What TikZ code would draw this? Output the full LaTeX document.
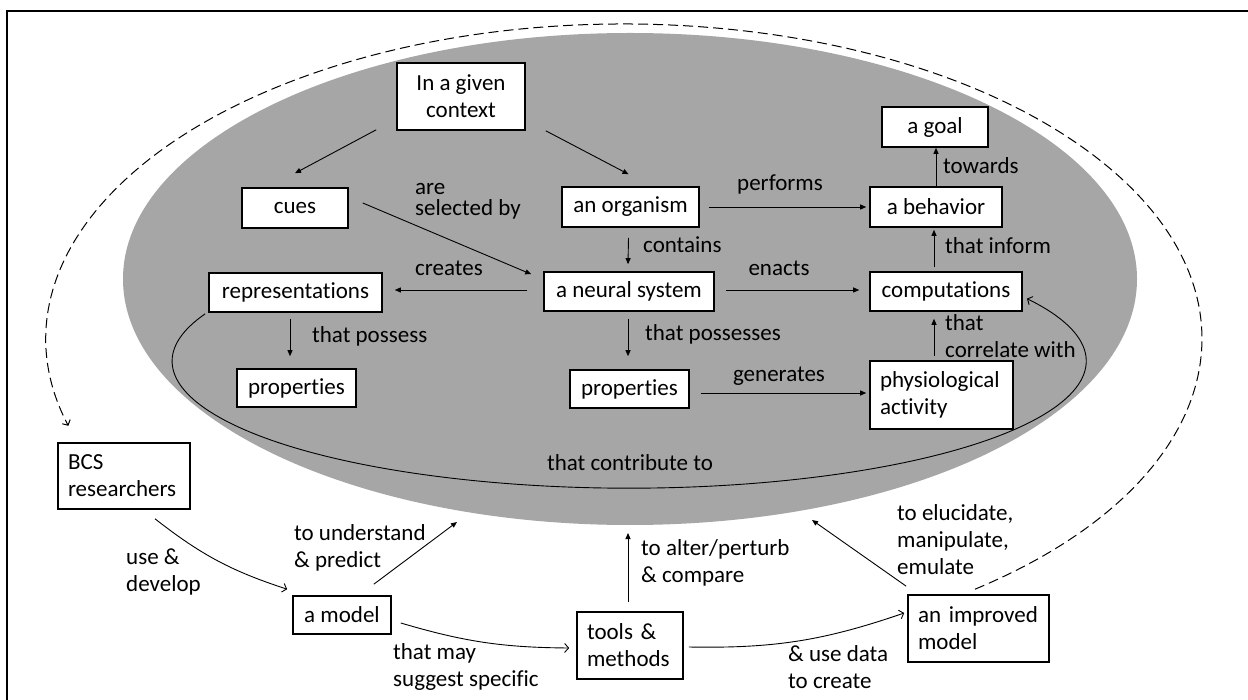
\documentclass[tikz,border=0pt]{standalone}
\usepackage{fontspec}
\setmainfont{Carlito}[Ligatures=NoCommon]
\usetikzlibrary{arrows.meta,calc}
\definecolor{fieldgray}{RGB}{166,166,166}
\tikzset{
  box/.style={draw, line width=1.6pt, fill=white, inner sep=0pt, align=center},
  lbox/.style={draw, line width=1.6pt, fill=white, inner xsep=10pt, inner ysep=0pt, align=left},
  lbl/.style={inner sep=0pt, align=left, anchor=west},
  clbl/.style={inner sep=0pt},
  link/.style={line width=0.9pt, -{Triangle[length=6pt,width=5pt]}},
  olink/.style={line width=0.9pt, -{Straight Barb[length=4pt,width=9pt]}},
  dlink/.style={line width=1pt, dash pattern=on 10pt off 5pt, -{Straight Barb[length=4pt,width=9pt]}}
}
\begin{document}
\begin{tikzpicture}[x=1pt, y=-1pt, font=\fontsize{23}{27}\selectfont]
\useasboundingbox (0,0) rectangle (1248,700);

% frame
\draw[line width=2pt] (7,700) -- (7,11) -- (1248,11);

% grey field of the organism
\fill[fieldgray] (630,279) ellipse [x radius=507pt, y radius=246pt];

% free ends on the grey field
\coordinate (e1) at (457,522);
\coordinate (e2) at (628,533);
\coordinate (e3) at (812,520);

% nodes
\node[box, minimum width=128pt, minimum height=67pt] (ctx) at (461,96.5) {In a given\\context};
\node[box, minimum width=106pt, minimum height=40pt] (cues) at (295,208) {cues};
\node[box, minimum width=137pt, minimum height=40pt] (org) at (630.5,207) {an organism};
\node[box, minimum width=106pt, minimum height=40pt] (goal) at (935,127) {a goal};
\node[box, minimum width=132pt, minimum height=40pt] (beh) at (936,207) {a behavior};
\node[box, minimum width=173pt, minimum height=39pt] (rep) at (295.5,292.5) {representations};
\node[box, minimum width=119pt, minimum height=38pt] (prop1) at (296.5,388) {properties};
\node[box, minimum width=170pt, minimum height=39pt] (neur) at (629,291.5) {a neural system};
\node[box, minimum width=119pt, minimum height=38pt] (prop2) at (629.5,389) {properties};
\node[box, minimum width=152pt, minimum height=39pt] (comp) at (946,291.5) {computations};

% curve from representations round to computations (under the boxes)
\draw[olink] ($(rep.south west)+(-3,1)$) arc[start angle=158.1, end angle=389.5, x radius=457pt, y radius=127pt];
\node[clbl] (lcontrib) at (630,463) {that contribute to};

\node[lbox, text width=123pt, minimum height=68pt] (phys) at (941.5,395) {physiological\\activity};
\node[lbox, text width=112pt, minimum height=66pt] (bcs) at (124,476) {BCS\\researchers};
\node[box, minimum width=98pt, minimum height=38pt] (model) at (342,615) {a model};
\node[lbox, text width=86pt, minimum height=67pt] (tools) at (630,645.5) {tools \&\\methods};
\node[lbox, text width=121pt, minimum height=67pt] (imp) at (978.5,628.5) {an improved\\model};

% connectors inside the grey field
\draw[link] ($(ctx.south west)+(-20,-1)$) -- ($(cues.north)+(0,-14)$);
\draw[link] ($(ctx.south east)+(20,0)$) -- ($(org.north)+(-2,-12)$);
\draw[link] ($(cues.east)+(14,-5)$) -- ($(neur.north west)+(-12,3)$);
\node[lbl] (lsel) at (415,201) {are\\[-6pt]selected by};
\draw[link] ($(org.east)+(9,0)$) -- ($(beh.west)+(-3,0)$);
\node[clbl] (lperf) at (780,184) {performs};
\draw[link] (beh.north) -- (beh.north |- goal.south);
\node[lbl] (ltow) at (943,166) {towards};
\draw[link] ($(org.south)+(-2,10)$) -- ($(neur.north)+(-1,-7)$);
\node[lbl] (lcont) at (643,245) {contains};
\draw[link] ($(neur.west)+(-16,-1.5)$) -- ($(rep.east)+(12,-2.5)$);
\node[clbl] (lcre) at (449,268) {creates};
\draw[link] ($(neur.east)+(11,-1.5)$) -- ($(comp.west)+(-10,-1.5)$);
\node[clbl] (lena) at (779,268) {enacts};
\draw[link] ($(neur.south)+(-1,7)$) -- ($(prop2.north)+(-1.5,-13)$);
\node[lbl] (lposs) at (645,334.5) {that possesses};
\draw[link] ($(rep.south)+(-5.5,6)$) -- ($(prop1.north)+(-6.5,-12)$);
\node[lbl] (lposs1) at (312,336) {that possess};
\draw[link] ($(prop2.east)+(11,4)$) -- ($(phys.west)+(-3,-2)$);
\node[clbl] (lgen) at (779,376) {generates};
\draw[link] ($(phys.north)+(-7.5,-4)$) -- ($(comp.south)+(-12,7)$);
\node[lbl] (lcorr) at (945,336.5) {that\\correlate with};
\draw[link] ($(comp.north)+(-12,-4)$) -- ($(beh.south)+(-2,2)$);
\node[lbl] (linf) at (945,245.5) {that inform};

% research loop below
\draw[olink] ($(bcs.south)+(31,9)$) to[bend right=10] ($(model.north west)+(-5,-6)$);
\node[lbl] (luse) at (126,572) {use \&\\develop};
\draw[link] ($(model.north east)+(-18,-11)$) -- (e1);
\node[lbl] (lund) at (294,547.5) {to understand\\\& predict};
\draw[olink] ($(model.east)+(9,8)$) to[bend right=8] ($(tools.west)+(-7,2.5)$);
\node[lbl] (lsug) at (393,666.5) {that may\\suggest specific};
\draw[link] ($(tools.north)+(-2,-9)$) -- (e2);
\node[lbl] (lalt) at (641,562.5) {to alter/perturb\\\& compare};
\draw[olink] ($(tools.east)+(5,1.5)$) to[bend right=10] ($(imp.west)+(-3,-15.5)$);
\node[lbl] (ldata) at (788,667.5) {\& use data\\to create};
\draw[link] ($(imp.north west)+(-1,-8)$) -- (e3);
\node[lbl] (lelu) at (897,540) {to elucidate,\\manipulate,\\emulate};

% dashed return from the improved model to the researchers
\draw[dlink] ($(imp.north)+(-3.5,-5)$) arc[start angle=-52.6, end angle=196, x radius=578pt, y radius=315pt];
\end{tikzpicture}
\end{document}
